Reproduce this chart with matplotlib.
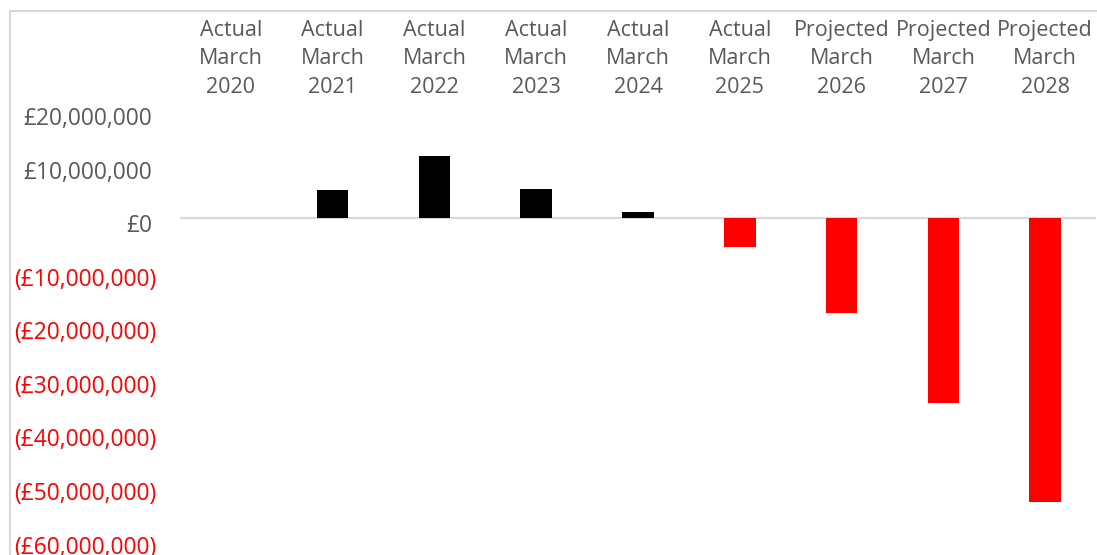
import matplotlib.pyplot as plt
import matplotlib.transforms as mtransforms

# chart data
periods = ["Actual\nMarch\n2020", "Actual\nMarch\n2021", "Actual\nMarch\n2022",
           "Actual\nMarch\n2023", "Actual\nMarch\n2024", "Actual\nMarch\n2025",
           "Projected\nMarch\n2026", "Projected\nMarch\n2027", "Projected\nMarch\n2028"]
balance = [0, 5_300_000, 11_700_000, 5_600_000, 1_250_000,
           -5_300_000, -17_700_000, -34_400_000, -53_000_000]
y_ticks = [20_000_000, 10_000_000, 0, -10_000_000, -20_000_000,
           -30_000_000, -40_000_000, -50_000_000, -60_000_000]
y_labels = ["£20,000,000", "£10,000,000", "£0", "(£10,000,000)", "(£20,000,000)",
            "(£30,000,000)", "(£40,000,000)", "(£50,000,000)", "(£60,000,000)"]

W, H = 1097, 555
plt.rcParams['font.family'] = ['Open Sans', 'DejaVu Sans']
grey = '#595959'
red = '#ff0000'

fig = plt.figure(figsize=(W / 100, H / 100), dpi=100)
# axes placed in pixel terms: x 180..1096, y (top) 111.5..539.5
ax = fig.add_axes([180 / W, 1 - 539.5 / H, 916 / W, 428 / H])

x = list(range(len(periods)))
colors = ['black' if v >= 0 else red for v in balance]
ax.bar(x, balance, width=0.31, color=colors, zorder=3)
ax.axhline(0, color='#d9d9d9', lw=1.6, zorder=2)

ax.set_xlim(-0.5, len(periods) - 0.5)
ax.set_ylim(-60_000_000, 20_000_000)
for s in ax.spines.values():
    s.set_visible(False)

ax.xaxis.tick_top()
ax.set_xticks(x)
ax.set_xticklabels(periods, fontsize=15.5, color=grey, linespacing=1.48)
ax.tick_params(axis='x', length=0, pad=9.8)

ax.set_yticks(y_ticks)
ax.set_yticklabels(y_labels, fontsize=16.4)
ax.tick_params(axis='y', length=0, pad=20)
for v, lab in zip(y_ticks, ax.get_yticklabels()):
    dx = 4 if v < 0 else 0
    lab.set_color(red if v < 0 else grey)
    lab.set_transform(lab.get_transform() +
                      mtransforms.ScaledTranslation(dx / 100, -5 / 100, fig.dpi_scale_trans))

# chart area border (left and top edges visible)
fig.add_artist(plt.Line2D([10 / W, 10 / W], [0, 1 - 11 / H], color='#d9d9d9', lw=1.5))
fig.add_artist(plt.Line2D([10 / W, 1], [1 - 11 / H, 1 - 11 / H], color='#d9d9d9', lw=1.5))

fig.savefig('out.png', dpi=100)
